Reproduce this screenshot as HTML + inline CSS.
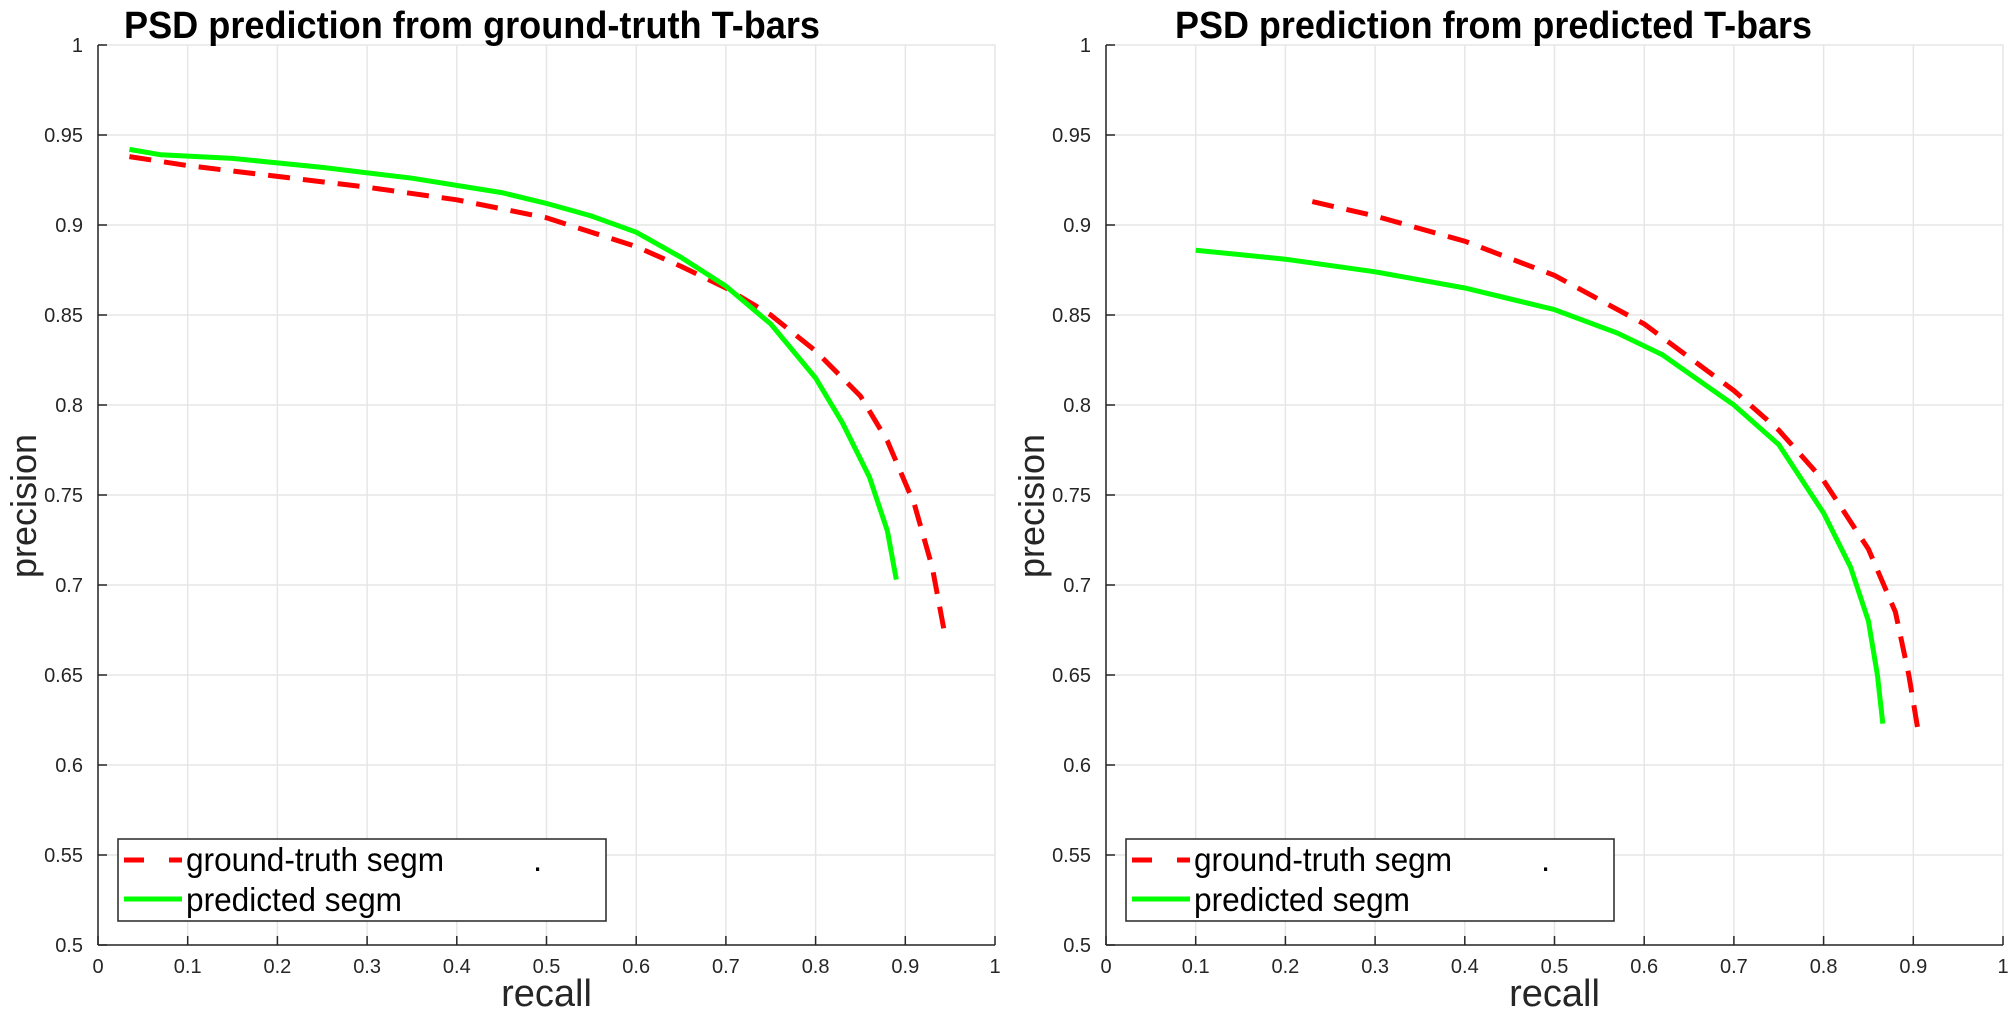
<!DOCTYPE html>
<html><head><meta charset="utf-8"><style>
body{margin:0;background:#fff;width:2008px;height:1016px;overflow:hidden}
svg{font-family:"Liberation Sans",sans-serif}
</style></head><body>
<svg id="chart" width="2008" height="1016"></svg>
<script>
const xTicks=[0,0.1,0.2,0.3,0.4,0.5,0.6,0.7,0.8,0.9,1];
const xTickLabels=["0","0.1","0.2","0.3","0.4","0.5","0.6","0.7","0.8","0.9","1"];
const yTicks=[0.5,0.55,0.6,0.65,0.7,0.75,0.8,0.85,0.9,0.95,1];
const yTickLabels=["0.5","0.55","0.6","0.65","0.7","0.75","0.8","0.85","0.9","0.95","1"];
const seriesNames=["ground-truth segm","predicted segm"];
const titles=["PSD prediction from ground-truth T-bars","PSD prediction from predicted T-bars"];
const leftGtRecall=[0.035,0.1,0.2,0.3,0.4,0.5,0.6,0.65,0.7,0.75,0.8,0.85,0.88,0.91,0.93,0.945];
const leftGtPrecision=[0.938,0.933,0.927,0.921,0.914,0.904,0.888,0.877,0.865,0.85,0.83,0.805,0.78,0.745,0.71,0.67];
const leftPredRecall=[0.035,0.07,0.15,0.25,0.35,0.45,0.5,0.55,0.6,0.65,0.7,0.75,0.8,0.83,0.86,0.88,0.89];
const leftPredPrecision=[0.942,0.939,0.937,0.932,0.926,0.918,0.912,0.905,0.896,0.882,0.866,0.845,0.815,0.79,0.76,0.73,0.703];
const rightGtRecall=[0.23,0.3,0.4,0.5,0.6,0.7,0.75,0.8,0.85,0.88,0.895,0.905];
const rightGtPrecision=[0.913,0.905,0.891,0.872,0.845,0.808,0.786,0.758,0.72,0.685,0.65,0.62];
const rightPredRecall=[0.1,0.2,0.3,0.4,0.5,0.57,0.62,0.7,0.75,0.8,0.83,0.85,0.86,0.866];
const rightPredPrecision=[0.886,0.881,0.874,0.865,0.853,0.84,0.828,0.8,0.778,0.74,0.71,0.68,0.65,0.623];

const NS="http://www.w3.org/2000/svg";
const svg=document.getElementById('chart');
function mk(tag,attrs,parent){const e=document.createElementNS(NS,tag);for(const k in attrs)e.setAttribute(k,attrs[k]);(parent||svg).appendChild(e);return e;}

function panel(x0,title,titleX,titleW,gx,gy,px,py,prefix){
  const top=45,bot=945,w=897;
  const X=v=>x0+v*w, Y=v=>bot-(v-0.5)/0.5*(bot-top);
  const g=mk('g',{});
  
  
  xTicks.forEach((t,i)=>{
    if(i>0&&i<xTicks.length-1){const l=mk('line',{x1:X(t),x2:X(t),y1:top,y2:bot,stroke:'#e6e6e6','stroke-width':1.5},g);}
  });
  yTicks.forEach((t,i)=>{
    if(i>0&&i<yTicks.length-1){const l=mk('line',{x1:x0,x2:x0+w,y1:Y(t),y2:Y(t),stroke:'#e6e6e6','stroke-width':1.5},g);}
  });
  const box=mk('rect',{x:x0,y:top,width:w,height:bot-top,fill:'none',stroke:'#e6e6e6','stroke-width':1.5},g);
  
  mk('line',{x1:x0,x2:x0,y1:top,y2:bot,stroke:'#262626','stroke-width':1.5},g);
  mk('line',{x1:x0,x2:x0+w,y1:bot,y2:bot,stroke:'#262626','stroke-width':1.5},g);
  xTicks.forEach((t,i)=>{
    mk('line',{x1:X(t),x2:X(t),y1:bot,y2:bot-9,stroke:'#262626','stroke-width':1.5},g);
    const tx=mk('text',{x:X(t),y:bot+28,'font-size':20,'text-anchor':'middle',fill:'#262626'},g);
    tx.textContent=xTickLabels[i];
    
  });
  yTicks.forEach((t,i)=>{
    mk('line',{x1:x0,x2:x0+9,y1:Y(t),y2:Y(t),stroke:'#262626','stroke-width':1.5},g);
    const tx=mk('text',{x:x0-15,y:Y(t)+7,'font-size':20,'text-anchor':'end',fill:'#262626'},g);
    tx.textContent=yTickLabels[i];
    
  });
  const ti=mk('text',{x:titleX,y:38,'font-size':38,'font-weight':'bold',fill:'#000',textLength:titleW,lengthAdjust:'spacingAndGlyphs'},g);
  ti.textContent=title;
  const xl=mk('text',{x:x0+w/2,y:1006,'font-size':38,'text-anchor':'middle',fill:'#262626'},g);
  xl.textContent='recall';
  const yl=mk('text',{x:0,y:0,'font-size':36,'text-anchor':'middle',fill:'#262626',transform:`translate(${x0-62},${506}) rotate(-90)`},g);
  yl.textContent='precision';
  const pts=(xs,ys)=>xs.map((v,i)=>X(v).toFixed(1)+','+Y(ys[i]).toFixed(1)).join(' ');
  const l1=mk('polyline',{points:pts(gx,gy),fill:'none',stroke:'#ff0000','stroke-width':5,'stroke-dasharray':'22 13'},g);
  
  const l2=mk('polyline',{points:pts(px,py),fill:'none',stroke:'#00ff00','stroke-width':5},g);
  
  const lg=mk('g',{},g);
  
  mk('rect',{x:x0+20,y:839,width:488,height:82,fill:'#fff',stroke:'#262626','stroke-width':1.5},lg);
  mk('line',{x1:x0+26,x2:x0+84,y1:860,y2:860,stroke:'#ff0000','stroke-width':5,'stroke-dasharray':'20 25'},lg);
  mk('line',{x1:x0+26,x2:x0+84,y1:899,y2:899,stroke:'#00ff00','stroke-width':5},lg);
  const e1=mk('text',{x:x0+88,y:871,'font-size':33,fill:'#000',textLength:258,lengthAdjust:'spacingAndGlyphs'},lg);e1.textContent=seriesNames[0];
  
  const d=mk('text',{x:x0+435,y:871,'font-size':33,fill:'#000'},lg);d.textContent='.';
  const e2=mk('text',{x:x0+88,y:911,'font-size':33,fill:'#000',textLength:216,lengthAdjust:'spacingAndGlyphs'},lg);e2.textContent=seriesNames[1];
  
}
panel(98,titles[0],124,696,leftGtRecall,leftGtPrecision,leftPredRecall,leftPredPrecision,'left');
panel(1106,titles[1],1175,637,rightGtRecall,rightGtPrecision,rightPredRecall,rightPredPrecision,'right');
</script>
</body></html>
